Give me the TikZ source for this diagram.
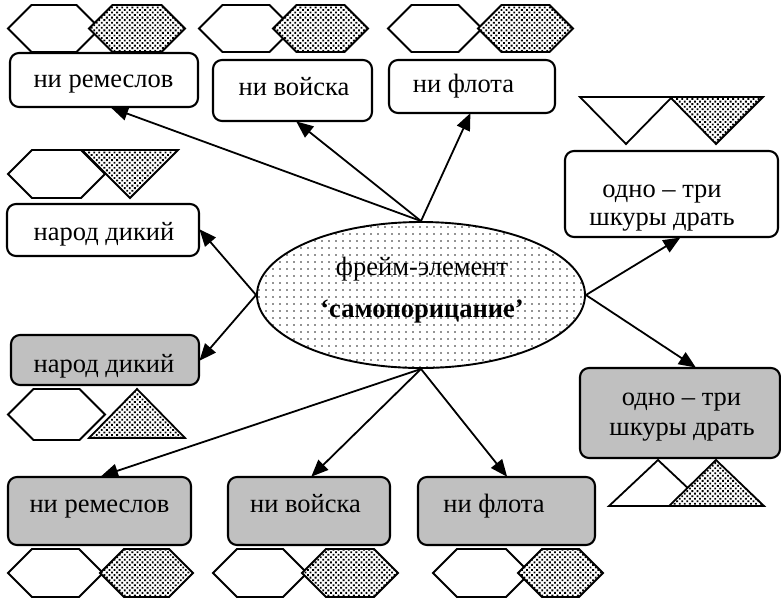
\documentclass[tikz,border=0pt]{standalone}
\usepackage{fontspec}
\setmainfont{Liberation Serif}
\usetikzlibrary{shapes.geometric,arrows.meta,patterns.meta}

\definecolor{boxgray}{RGB}{192,192,192}

% outline hexagon between (#1,#2) and (#3,#4), 45-degree side edges
\newcommand\hexat[5]{%
  \draw[#5] (#1,{(#2+#4)/2}) -- ({#1+(#4-#2)/2},#2) -- ({#3-(#4-#2)/2},#2)
    -- (#3,{(#2+#4)/2}) -- ({#3-(#4-#2)/2},#4) -- ({#1+(#4-#2)/2},#4) -- cycle;}

\begin{document}
\begin{tikzpicture}[x=1pt,y=-1pt,
  font=\fontsize{26.5}{30}\selectfont,
  wbox/.style={draw, line width=2.1pt, rounded corners=9pt, fill=white, inner sep=0pt},
  gbox/.style={wbox, fill=boxgray},
  lbl/.style={anchor=base, inner sep=0pt},
  arr/.style={line width=1.8pt, -{Triangle[length=17pt,width=14pt]}, shorten >=-1pt},
  plain/.style={line width=1.8pt, fill=white, line join=miter},
  dense/.style={line width=1.8pt, line join=miter, preaction={fill=white},
    pattern={Dots[distance=3.6pt,radius=1.3pt,angle=45]}}
]
\useasboundingbox (0,0) rectangle (781,598);

% central frame element
\node[ellipse, draw, line width=1.9pt, minimum width=328pt, minimum height=146pt,
  inner sep=0pt, preaction={fill=white},
  pattern={Dots[distance=7pt,radius=0.8pt]}, pattern color=black!85] (e) at (421,295) {};
\node[lbl] (et1) at (422,275) {фрейм-элемент};
\node[lbl] (et2) at (422,317) {\bfseries ‘самопорицание’};

% upper row
\node[wbox, minimum width=188pt, minimum height=54pt] (b1) at (104,80) {};
\node[wbox, minimum width=159pt, minimum height=61pt] (b2) at (292.5,90.5) {};
\node[wbox, minimum width=166pt, minimum height=53pt] (b3) at (472,86.5) {};
\node[lbl] (tb1) at (103.5,87) {ни ремеслов};
\node[lbl] (tb2) at (294,95) {ни войска};
\node[lbl] (tb3) at (463.5,92) {ни флота};

% right side
\node[wbox, minimum width=213pt, minimum height=86pt] (rt) at (671.5,194) {};
\node[lbl] (trt1) at (662,197) {одно – три};
\node[lbl] (trt2) at (662,225) {шкуры драть};
\node[gbox, minimum width=200pt, minimum height=90pt] (rg) at (680,413) {};
\node[lbl] (trg1) at (681.5,405) {одно – три};
\node[lbl] (trg2) at (682,435) {шкуры драть};

% left side
\node[wbox, minimum width=192pt, minimum height=52pt] (n1) at (103,230) {};
\node[lbl] (tn1) at (104,240) {народ дикий};
\node[gbox, minimum width=188pt, minimum height=50pt] (n2) at (105,360) {};
\node[lbl] (tn2) at (104,372) {народ дикий};

% lower row
\node[gbox, minimum width=183pt, minimum height=68pt] (g1) at (99.5,511) {};
\node[gbox, minimum width=162pt, minimum height=68pt] (g2) at (309,511) {};
\node[gbox, minimum width=177pt, minimum height=68pt] (g3) at (506.5,511) {};
\node[lbl] (tg1) at (99.5,512) {ни ремеслов};
\node[lbl] (tg2) at (305.5,512) {ни войска};
\node[lbl] (tg3) at (494,512) {ни флота};

% connectors
\draw[arr] (e.north) -- ([xshift=8pt]b1.south);
\draw[arr] (e.north) -- ([xshift=4.5pt]b2.south);
\draw[arr] (e.north) -- ([xshift=-2pt]b3.south);
\draw[arr] (e.west) -- (n1.east);
\draw[arr] (e.west) -- (n2.east);
\draw[arr] (e.east) -- ([xshift=8pt]rt.south);
\draw[arr] (e.east) -- ([xshift=15pt]rg.north);
\draw[arr] (e.south) -- ([xshift=2.5pt]g1.north);
\draw[arr] (e.south) -- ([xshift=3pt]g2.north);
\draw[arr] (e.south) -- (g3.north);

% markers above the upper row
\hexat{8}{5}{100}{52}{plain}
\hexat{89}{5}{185}{52}{dense}
\hexat{199}{5}{293}{52}{plain}
\hexat{273}{5}{368}{52}{dense}
\hexat{388}{5}{482}{52}{plain}
\hexat{478}{5}{573}{52}{dense}

% markers on the right
\draw[plain] (580,97) -- (672,97) -- (626,144) -- cycle;
\draw[dense] (670,97) -- (763,97) -- (716,144) -- cycle;
\draw[plain] (609,506) -- (707,506) -- (658,460) -- cycle;
\draw[dense] (669,506) -- (764,506) -- (716,460) -- cycle;

% markers on the left
\hexat{8}{150}{105}{198}{plain}
\draw[dense] (82,150) -- (178,150) -- (130,198) -- cycle;
\hexat{8}{389}{105}{440}{plain}
\draw[dense] (89,438) -- (185,438) -- (137,389) -- cycle;

% markers below the lower row
\hexat{8}{549}{103}{597}{plain}
\hexat{100}{549}{193}{597}{dense}
\hexat{213}{549}{307}{597}{plain}
\hexat{302}{549}{398}{597}{dense}
\hexat{433}{549}{530}{597}{plain}
\hexat{518}{549}{603}{597}{dense}
\end{tikzpicture}
\end{document}
